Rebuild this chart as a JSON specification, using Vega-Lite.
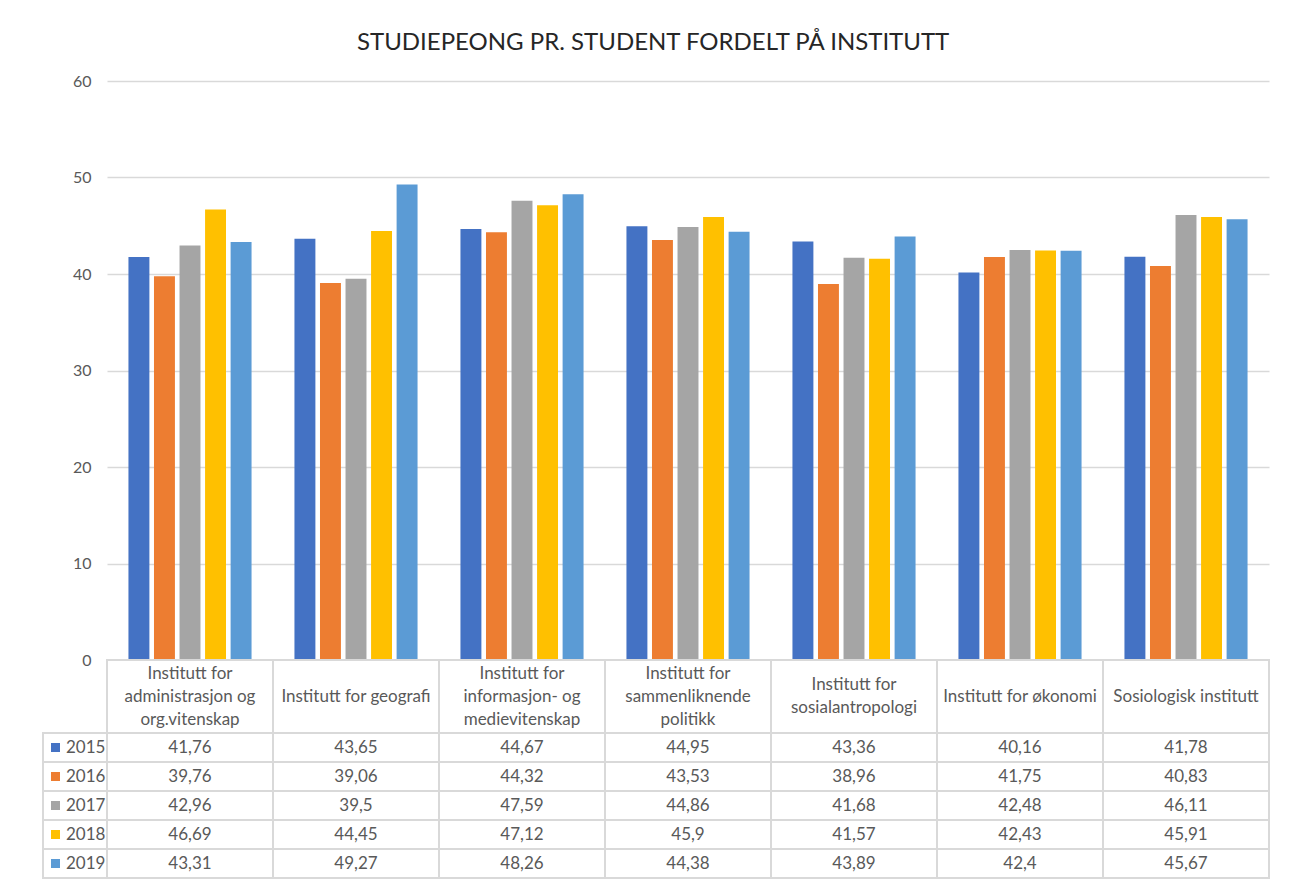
{
  "$schema": "https://vega.github.io/schema/vega-lite/v6.json",
  "padding": {"left": 42, "top": 31, "right": 29, "bottom": 3},
  "background": "white",
  "title": {
    "text": "STUDIEPEONG PR. STUDENT FORDELT PÅ INSTITUTT",
    "anchor": "start",
    "frame": "group",
    "dx": 314,
    "font": "Lato",
    "fontSize": 24,
    "fontWeight": "normal",
    "color": "#262626",
    "offset": 18
  },
  "config": {
    "view": {"stroke": null},
    "font": "Lato",
    "locale": {"number": {"decimal": ",", "thousands": " ", "grouping": [3], "currency": ["", ""]}}
  },
  "datasets": {
    "verdier": [
      {"institutt": "Institutt for\nadministrasjon og\norg.vitenskap", "ar": "2015", "verdi": 41.76},
      {"institutt": "Institutt for\nadministrasjon og\norg.vitenskap", "ar": "2016", "verdi": 39.76},
      {"institutt": "Institutt for\nadministrasjon og\norg.vitenskap", "ar": "2017", "verdi": 42.96},
      {"institutt": "Institutt for\nadministrasjon og\norg.vitenskap", "ar": "2018", "verdi": 46.69},
      {"institutt": "Institutt for\nadministrasjon og\norg.vitenskap", "ar": "2019", "verdi": 43.31},
      {"institutt": "Institutt for geografi", "ar": "2015", "verdi": 43.65},
      {"institutt": "Institutt for geografi", "ar": "2016", "verdi": 39.06},
      {"institutt": "Institutt for geografi", "ar": "2017", "verdi": 39.5},
      {"institutt": "Institutt for geografi", "ar": "2018", "verdi": 44.45},
      {"institutt": "Institutt for geografi", "ar": "2019", "verdi": 49.27},
      {"institutt": "Institutt for\ninformasjon- og\nmedievitenskap", "ar": "2015", "verdi": 44.67},
      {"institutt": "Institutt for\ninformasjon- og\nmedievitenskap", "ar": "2016", "verdi": 44.32},
      {"institutt": "Institutt for\ninformasjon- og\nmedievitenskap", "ar": "2017", "verdi": 47.59},
      {"institutt": "Institutt for\ninformasjon- og\nmedievitenskap", "ar": "2018", "verdi": 47.12},
      {"institutt": "Institutt for\ninformasjon- og\nmedievitenskap", "ar": "2019", "verdi": 48.26},
      {"institutt": "Institutt for\nsammenliknende\npolitikk", "ar": "2015", "verdi": 44.95},
      {"institutt": "Institutt for\nsammenliknende\npolitikk", "ar": "2016", "verdi": 43.53},
      {"institutt": "Institutt for\nsammenliknende\npolitikk", "ar": "2017", "verdi": 44.86},
      {"institutt": "Institutt for\nsammenliknende\npolitikk", "ar": "2018", "verdi": 45.9},
      {"institutt": "Institutt for\nsammenliknende\npolitikk", "ar": "2019", "verdi": 44.38},
      {"institutt": "Institutt for\nsosialantropologi", "ar": "2015", "verdi": 43.36},
      {"institutt": "Institutt for\nsosialantropologi", "ar": "2016", "verdi": 38.96},
      {"institutt": "Institutt for\nsosialantropologi", "ar": "2017", "verdi": 41.68},
      {"institutt": "Institutt for\nsosialantropologi", "ar": "2018", "verdi": 41.57},
      {"institutt": "Institutt for\nsosialantropologi", "ar": "2019", "verdi": 43.89},
      {"institutt": "Institutt for økonomi", "ar": "2015", "verdi": 40.16},
      {"institutt": "Institutt for økonomi", "ar": "2016", "verdi": 41.75},
      {"institutt": "Institutt for økonomi", "ar": "2017", "verdi": 42.48},
      {"institutt": "Institutt for økonomi", "ar": "2018", "verdi": 42.43},
      {"institutt": "Institutt for økonomi", "ar": "2019", "verdi": 42.4},
      {"institutt": "Sosiologisk institutt", "ar": "2015", "verdi": 41.78},
      {"institutt": "Sosiologisk institutt", "ar": "2016", "verdi": 40.83},
      {"institutt": "Sosiologisk institutt", "ar": "2017", "verdi": 46.11},
      {"institutt": "Sosiologisk institutt", "ar": "2018", "verdi": 45.91},
      {"institutt": "Sosiologisk institutt", "ar": "2019", "verdi": 45.67}
    ]
  },
  "columns": 2,
  "spacing": 0,
  "bounds": "flush",
  "concat": [
    {
      "width": 64, "height": 579,
      "data": {"values": []},
      "mark": "point"
    },
    {
      "width": 1162, "height": 579,
      "data": {"name": "verdier"},
      "mark": {"type": "bar"},
      "encoding": {
        "x": {"field": "institutt", "type": "nominal", "sort": null, "axis": null,
              "scale": {"paddingInner": 0, "paddingOuter": 0}},
        "xOffset": {"field": "ar", "type": "nominal",
                    "scale": {"paddingInner": 0.18, "paddingOuter": 0.84}},
        "y": {"field": "verdi", "type": "quantitative",
              "scale": {"domain": [0, 60], "nice": false},
              "axis": {"values": [0, 10, 20, 30, 40, 50, 60], "title": null, "domain": false, "ticks": false,
                       "grid": true, "gridColor": "#d9d9d9", "gridWidth": 1.5,
                       "labelFontSize": 16, "labelColor": "#595959", "labelPadding": 16, "labelFont": "Lato"}},
        "color": {"field": "ar", "type": "nominal", "legend": null,
                  "scale": {"domain": ["2015", "2016", "2017", "2018", "2019"],
                            "range": ["#4472C4", "#ED7D31", "#A5A5A5", "#FFC000", "#5B9BD5"]}}
      }
    },
    {
      "width": 64, "height": 73,
      "data": {"values": []},
      "mark": "point"
    },
    {
      "width": 1162, "height": 73,
      "data": {"name": "verdier"},
      "transform": [{"filter": "datum.ar == '2015'"}],
      "encoding": {
        "x": {"field": "institutt", "type": "nominal", "sort": null, "axis": null,
              "scale": {"paddingInner": 0, "paddingOuter": 0}}
      },
      "layer": [
        {"mark": {"type": "rect", "fill": "white", "stroke": "#d9d9d9", "strokeWidth": 2}},
        {"transform": [{"filter": "length(split(datum.institutt, '\\n')) == 1"}],
         "mark": {"type": "text", "lineBreak": "\n", "baseline": "middle", "align": "center",
                  "fontSize": 17, "lineHeight": 23, "color": "#595959", "font": "Lato"},
         "encoding": {"text": {"field": "institutt", "type": "nominal"}}},
        {"transform": [{"filter": "length(split(datum.institutt, '\\n')) == 2"}],
         "mark": {"type": "text", "lineBreak": "\n", "baseline": "middle", "align": "center", "dy": -11.5,
                  "fontSize": 17, "lineHeight": 23, "color": "#595959", "font": "Lato"},
         "encoding": {"text": {"field": "institutt", "type": "nominal"}}},
        {"transform": [{"filter": "length(split(datum.institutt, '\\n')) == 3"}],
         "mark": {"type": "text", "lineBreak": "\n", "baseline": "middle", "align": "center", "dy": -23,
                  "fontSize": 17, "lineHeight": 23, "color": "#595959", "font": "Lato"},
         "encoding": {"text": {"field": "institutt", "type": "nominal"}}}
      ]
    },
    {
      "width": 64, "height": 145,
      "data": {"name": "verdier"},
      "transform": [{"filter": "datum.institutt == 'Institutt for geografi'"}],
      "encoding": {
        "y": {"field": "ar", "type": "nominal", "axis": null,
              "scale": {"paddingInner": 0, "paddingOuter": 0}}
      },
      "layer": [
        {"mark": {"type": "rect", "fill": "white", "stroke": "#d9d9d9", "strokeWidth": 2}},
        {"mark": {"type": "point", "shape": "square", "filled": true, "opacity": 1, "size": 81, "xOffset": -19.5},
         "encoding": {"color": {"field": "ar", "type": "nominal", "legend": null,
                  "scale": {"domain": ["2015", "2016", "2017", "2018", "2019"],
                            "range": ["#4472C4", "#ED7D31", "#A5A5A5", "#FFC000", "#5B9BD5"]}}}},
        {"mark": {"type": "text", "align": "left", "baseline": "middle", "dx": -9,
                  "fontSize": 17, "color": "#595959", "font": "Lato"},
         "encoding": {"text": {"field": "ar", "type": "nominal"}}}
      ]
    },
    {
      "width": 1162, "height": 145,
      "data": {"name": "verdier"},
      "encoding": {
        "x": {"field": "institutt", "type": "nominal", "sort": null, "axis": null,
              "scale": {"paddingInner": 0, "paddingOuter": 0}},
        "y": {"field": "ar", "type": "nominal", "axis": null,
              "scale": {"paddingInner": 0, "paddingOuter": 0}}
      },
      "layer": [
        {"mark": {"type": "rect", "fill": "white", "stroke": "#d9d9d9", "strokeWidth": 2}},
        {"mark": {"type": "text", "align": "center", "baseline": "middle",
                  "fontSize": 17, "color": "#595959", "font": "Lato"},
         "encoding": {"text": {"field": "verdi", "type": "quantitative", "format": ".2~f"}}}
      ]
    }
  ]
}
